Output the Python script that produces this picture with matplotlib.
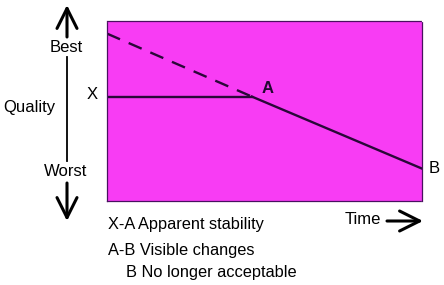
import matplotlib.pyplot as plt

# schematic quality-over-time data (axes run 0..10 both ways)
time_pts = [0, 4.6, 10]
quality_true = [9.3, 5.8, 1.8]      # real decline, dashed until A
quality_seen = [5.8, 5.8]           # apparent stability X-A
point_labels = ["X", "A", "B"]
legend_lines = ["X-A Apparent stability", "A-B Visible changes", "B No longer acceptable"]

W, H = 444, 285
fig = plt.figure(figsize=(W / 100, H / 100), dpi=100)
plt.rcParams['font.family'] = ['Liberation Sans', 'DejaVu Sans']


def px(x, y):
    # picture pixels -> figure fraction
    return (x / W, 1 - y / H)


ax = fig.add_axes([107 / W, 1 - 201 / H, 315 / W, 180 / H])
ax.set_facecolor('#f83cf4')
ax.set_xlim(0, 10)
ax.set_ylim(0, 10)
ax.set_xticks([])
ax.set_yticks([])
for s in ax.spines.values():
    s.set_color('#4a1060')
    s.set_linewidth(0.9)
    s.set_linestyle((0, (1, 1)))

line_col = '#2a0838'
ax.plot(time_pts[:2], quality_true[:2], color=line_col, lw=1.7, ls=(0, (6, 4)))
ax.plot(time_pts[1:], quality_true[1:], color=line_col, lw=1.7)
ax.plot(time_pts[:2], quality_seen, color=line_col, lw=1.7)

# point labels
ax.text(-0.3, quality_seen[0] + 0.1, point_labels[0], ha='right', va='center', fontsize=12, clip_on=False)
ax.text(time_pts[1] + 0.3, quality_true[1] + 0.45, point_labels[1], ha='left', va='center',
        fontsize=12, fontweight='bold', color='#200830', clip_on=False)
ax.text(10.2, quality_true[2], point_labels[2], ha='left', va='center', fontsize=12, clip_on=False)

# quality axis arrow
arrow_kw = dict(arrowstyle='->,head_length=0.9,head_width=0.45', color='black', lw=2.2,
                mutation_scale=16, shrinkA=0, shrinkB=0)
fig.add_artist(plt.Line2D([67 / W, 67 / W], [px(0, 57)[1], px(0, 161)[1]], color='black', lw=1.3))
plt.annotate('', xy=px(67, 5), xytext=px(67, 37), xycoords='figure fraction', arrowprops=arrow_kw)
plt.annotate('', xy=px(67, 221), xytext=px(67, 183), xycoords='figure fraction', arrowprops=arrow_kw)
fig.text(*px(66, 47), "Best", ha='center', va='center', fontsize=12)
fig.text(*px(66, 172), "Worst", ha='center', va='center', fontsize=12)
fig.text(*px(29, 107), "Quality", ha='center', va='center', fontsize=12)

# time arrow
fig.text(*px(381, 219), "Time", ha='right', va='center', fontsize=12)
plt.annotate('', xy=px(423, 221), xytext=px(387, 221), xycoords='figure fraction', arrowprops=arrow_kw)

# legend text
fig.text(*px(108, 224), legend_lines[0], ha='left', va='center', fontsize=11.8)
fig.text(*px(108, 250), legend_lines[1], ha='left', va='center', fontsize=11.8)
fig.text(*px(126, 272), legend_lines[2], ha='left', va='center', fontsize=11.8)

fig.savefig("out.png", dpi=100)
